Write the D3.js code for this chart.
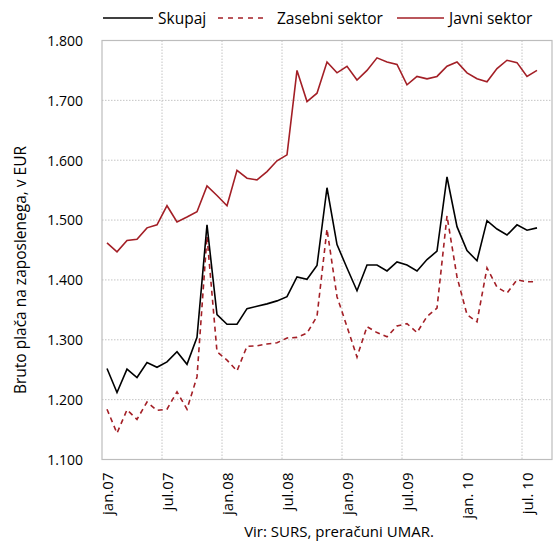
<!DOCTYPE html>
<html>
<head>
<meta charset="utf-8">
<script src="https://cdn.jsdelivr.net/npm/d3@7"></script>
<style>
  body { margin: 0; background: #fff; }
  text { font-family: "Open Sans", "Liberation Sans", Arial, sans-serif; fill: #000; }
</style>
</head>
<body>
<div id="chart"></div>
<script>
var months = [];
["07", "08", "09", "10"].forEach(function (yy) {
  ["jan", "feb", "mar", "apr", "maj", "jun", "jul", "avg", "sep", "okt", "nov", "dec"].forEach(function (m) {
    months.push(m + "." + yy);
  });
});
months = months.slice(0, 45); // jan.07 .. sep.10

var tickLabels = ["jan.07", "jul.07", "jan.08", "jul.08", "jan.09", "jul.09", "jan. 10", "jul. 10"];
var tickMonths = ["jan.07", "jul.07", "jan.08", "jul.08", "jan.09", "jul.09", "jan.10", "jul.10"];
var yTicks = [1100, 1200, 1300, 1400, 1500, 1600, 1700, 1800];

var skupaj = [1252, 1212, 1251, 1237, 1262, 1254, 1263, 1280, 1259, 1304,
  1492, 1342, 1326, 1326, 1352, 1356, 1360, 1365, 1372, 1405,
  1401, 1424, 1554, 1459, 1420, 1382, 1425, 1425, 1415, 1430,
  1425, 1415, 1434, 1448, 1572, 1489, 1449, 1432, 1499, 1485,
  1475, 1492, 1483, 1487];
var zasebni = [1184, 1144, 1183, 1167, 1196, 1182, 1184, 1213, 1184, 1238,
  1473, 1280, 1266, 1248, 1289, 1290, 1293, 1295, 1303, 1304,
  1311, 1339, 1485, 1372, 1322, 1271, 1322, 1312, 1305, 1323,
  1327, 1312, 1339, 1353, 1507, 1405, 1342, 1330, 1420, 1388,
  1378, 1400, 1397, 1397];
var javni = [1462, 1447, 1466, 1468, 1487, 1492, 1524, 1497, 1505, 1514,
  1557, 1541, 1524, 1583, 1570, 1567, 1581, 1599, 1609, 1750,
  1698, 1712, 1764, 1746, 1757, 1734, 1750, 1771, 1764, 1760,
  1726, 1740, 1736, 1740, 1757, 1764, 1746, 1736, 1731, 1753,
  1767, 1763, 1740, 1750];

var seriesNames = ["Skupaj", "Zasebni sektor", "Javni sektor"];
var red = "#a31f26";

var width = 555, height = 546;
var plotLeft = 102, plotRight = 552, plotTop = 40.5, plotBottom = 459.5;

var svg = d3.select("#chart").append("svg")
  .attr("width", width)
  .attr("height", height);

var x = d3.scaleBand()
  .domain(months)
  .range([plotLeft, plotRight])
  .padding(0);

var y = d3.scaleLinear()
  .domain([1100, 1800])
  .range([plotBottom, plotTop]);

var loc = d3.formatLocale({ decimal: ",", thousands: ".", grouping: [3], currency: ["", " EUR"] });
var fmt = loc.format(",");

// grid
var grid = svg.append("g");
grid.selectAll(".hgrid").data(yTicks.slice(1, -1)).enter().append("line")
  .attr("x1", plotLeft).attr("x2", plotRight)
  .attr("y1", function (d) { return y(d); })
  .attr("y2", function (d) { return y(d); })
  .attr("stroke", "#c4c4c4")
  .attr("stroke-dasharray", "1.5,1.5");

var vgrid = months.filter(function (m, i) { return i > 0 && i % 6 === 0; });
grid.selectAll(".vgrid").data(vgrid).enter().append("line")
  .attr("x1", function (d) { return x(d); })
  .attr("x2", function (d) { return x(d); })
  .attr("y1", plotTop).attr("y2", plotBottom)
  .attr("stroke", "#c4c4c4")
  .attr("stroke-dasharray", "1.5,1.5");

svg.append("rect")
  .attr("x", plotLeft).attr("y", plotTop)
  .attr("width", plotRight - plotLeft).attr("height", plotBottom - plotTop)
  .attr("fill", "none")
  .attr("stroke", "#bdbdbd")
  .attr("stroke-width", 1.2);

// y axis
var yAxis = svg.append("g")
  .attr("transform", "translate(" + plotLeft + ",0)")
  .call(d3.axisLeft(y).tickValues(yTicks).tickSize(0).tickPadding(19).tickFormat(fmt));
yAxis.select(".domain").remove();
yAxis.selectAll("text")
  .style("font-size", "14px")
  .style("font-family", "'Open Sans', sans-serif")
  .attr("fill", "#000")
  .attr("dy", "0.35em");

// x axis
var xAxis = svg.append("g")
  .attr("transform", "translate(0," + plotBottom + ")");
xAxis.selectAll("text").data(tickMonths).enter().append("text")
  .attr("transform", function (d) {
    return "translate(" + (x(d) + x.bandwidth() / 2 + 6) + ",13) rotate(-90)";
  })
  .attr("text-anchor", "end")
  .style("font-size", "15px")
  .text(function (d, i) { return tickLabels[i]; });

// lines
var line = d3.line()
  .x(function (d, i) { return x(months[i]) + x.bandwidth() / 2; })
  .y(function (d) { return y(d); });

svg.append("path").datum(zasebni)
  .attr("d", line)
  .attr("fill", "none")
  .attr("stroke", red)
  .attr("stroke-width", 1.6)
  .attr("stroke-dasharray", "5,4");

svg.append("path").datum(javni)
  .attr("d", line)
  .attr("fill", "none")
  .attr("stroke", red)
  .attr("stroke-width", 1.6);

svg.append("path").datum(skupaj)
  .attr("d", line)
  .attr("fill", "none")
  .attr("stroke", "#000")
  .attr("stroke-width", 1.6);

// legend
var legendItems = [
  { name: seriesNames[0], x1: 103, x2: 153, tx: 158, color: "#000", dash: null },
  { name: seriesNames[1], x1: 218, x2: 265, tx: 277, color: red, dash: "5,5" },
  { name: seriesNames[2], x1: 397, x2: 444, tx: 449, color: red, dash: null }
];
var legend = svg.append("g");
legendItems.forEach(function (it) {
  legend.append("line")
    .attr("x1", it.x1).attr("x2", it.x2)
    .attr("y1", 18).attr("y2", 18)
    .attr("stroke", it.color)
    .attr("stroke-width", 1.6)
    .attr("stroke-dasharray", it.dash);
  legend.append("text")
    .attr("x", it.tx).attr("y", 23.5)
    .style("font-size", "15.5px")
    .text(it.name);
});

// axis title
svg.append("text")
  .attr("transform", "translate(26,270) rotate(-90)")
  .attr("text-anchor", "middle")
  .style("font-size", "15.5px")
  .text("Bruto plača na zaposlenega, v EUR");

svg.append("text")
  .attr("x", 339).attr("y", 537)
  .attr("text-anchor", "middle")
  .style("font-size", "15px")
  .text("Vir: SURS, preračuni UMAR.");
</script>
</body>
</html>
